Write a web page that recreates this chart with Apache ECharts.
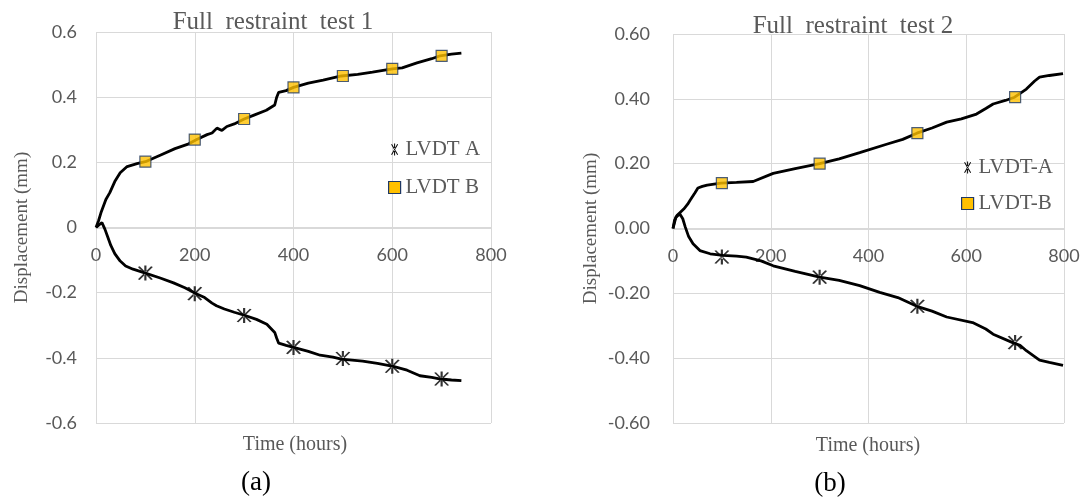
<!DOCTYPE html>
<html>
<head>
<meta charset="utf-8">
<script src="https://cdn.jsdelivr.net/npm/echarts@6/dist/echarts.min.js"></script>
<style>
  html, body { margin: 0; padding: 0; background: #fff; }
  #main { width: 1086px; height: 500px; }
</style>
</head>
<body>
<div id="main"></div>
<script>
// test 1 (a) - measured curves
var hoursB1 = [0, 5, 10, 20, 28, 38, 49, 63, 83, 100, 130, 160, 185, 204, 225, 235, 245, 255, 265, 280, 300, 320, 345, 362, 366, 370, 385, 400, 430, 460, 497, 530, 560, 600, 620, 650, 680, 697, 720, 740];
var dispB1 = [0, 0.02, 0.045, 0.086, 0.107, 0.141, 0.168, 0.187, 0.196, 0.202, 0.222, 0.242, 0.255, 0.27, 0.285, 0.29, 0.305, 0.298, 0.31, 0.318, 0.333, 0.345, 0.36, 0.376, 0.4, 0.415, 0.42, 0.43, 0.443, 0.452, 0.465, 0.47, 0.477, 0.487, 0.49, 0.505, 0.518, 0.527, 0.532, 0.535];
var hoursA1 = [0, 6, 12, 18, 24, 30, 38, 49, 60, 75, 100, 130, 157, 180, 203, 220, 235, 244, 260, 280, 302, 325, 346, 362, 366, 370, 385, 400, 430, 454, 480, 497, 540, 570, 602, 630, 656, 680, 698, 720, 740];
var dispA1 = [0, 0.008, 0.015, -0.005, -0.03, -0.055, -0.08, -0.103, -0.118, -0.128, -0.14, -0.155, -0.17, -0.185, -0.203, -0.215, -0.232, -0.24, -0.25, -0.26, -0.27, -0.282, -0.297, -0.322, -0.34, -0.355, -0.362, -0.368, -0.38, -0.392, -0.398, -0.404, -0.41, -0.417, -0.426, -0.438, -0.455, -0.46, -0.465, -0.468, -0.47];
var markHours1 = [100, 200, 300, 400, 500, 600, 700];
var markB1 = [0.202, 0.27, 0.333, 0.43, 0.465, 0.487, 0.527];
var markA1 = [-0.14, -0.203, -0.27, -0.368, -0.402, -0.426, -0.465];

// test 2 (b)
var hoursB2 = [0, 3, 8, 15, 22, 30, 35, 45, 51, 60, 70, 98, 130, 164, 205, 250, 300, 340, 382, 437, 470, 499, 530, 560, 590, 621, 640, 655, 680, 699, 723, 740, 750, 770, 798];
var dispB2 = [0, 0.025, 0.04, 0.05, 0.06, 0.075, 0.087, 0.11, 0.125, 0.13, 0.134, 0.14, 0.142, 0.145, 0.17, 0.185, 0.2, 0.215, 0.234, 0.26, 0.275, 0.294, 0.31, 0.328, 0.338, 0.353, 0.37, 0.384, 0.395, 0.405, 0.43, 0.455, 0.467, 0.472, 0.478];
var hoursA2 = [0, 6, 14, 20, 25, 32, 41, 55, 76, 102, 130, 150, 180, 205, 250, 300, 340, 382, 423, 460, 499, 530, 560, 613, 640, 655, 695, 710, 723, 740, 750, 770, 798];
var dispA2 = [0, 0.035, 0.045, 0.03, 0.005, -0.025, -0.047, -0.068, -0.078, -0.083, -0.085, -0.088, -0.1, -0.115, -0.132, -0.15, -0.16, -0.176, -0.197, -0.213, -0.24, -0.255, -0.273, -0.29, -0.31, -0.326, -0.352, -0.36, -0.377, -0.395, -0.406, -0.413, -0.422];
var markHours2 = [100, 300, 500, 700];
var markB2 = [0.14, 0.2, 0.294, 0.405];
var markA2 = [-0.088, -0.15, -0.24, -0.352];

var xTicks = [0, 800, 200];   // min, max, step
var yTicks = [-0.6, 0.6, 0.2];

function zip(xs, ys) {
  return xs.map(function (x, i) { return [x, ys[i]]; });
}

// 6 armed star, filled thin bars
var starPath = 'path://M-0.5,-6L0.5,-6L0.5,6L-0.5,6Z' +
  'M2.63,5.43L3.47,4.93L-2.63,-5.43L-3.47,-4.93Z' +
  'M3.47,-4.93L2.63,-5.43L-3.47,4.93L-2.63,5.43Z';

var grey = '#595959';
var gridGrey = '#d9d9d9';
var serif = '"Liberation Serif", "Times New Roman", serif';
var sans = 'Lato, "Noto Sans", sans-serif';

var squareStyle = { color: '#FFC000', borderColor: '#1F3864', borderWidth: 1.2 };
var starStyle = { color: '#000' };

// x axis sits on y = 0, half way up the plot
function xAxisFor(idx, lift) {
  return {
    gridIndex: idx, type: 'value',
    min: xTicks[0], max: xTicks[1], interval: xTicks[2],
    offset: -lift,
    axisLine: { onZero: false, lineStyle: { color: gridGrey } },
    axisTick: { show: false },
    axisLabel: { color: grey, fontFamily: sans, fontSize: 18, margin: 18 },
    splitLine: { lineStyle: { color: gridGrey } }
  };
}

function yAxisFor(idx, digits, gap, margin) {
  return {
    gridIndex: idx, type: 'value',
    min: yTicks[0], max: yTicks[1], interval: yTicks[2],
    name: 'Displacement (mm)', nameLocation: 'middle', nameGap: gap,
    nameTextStyle: { color: grey, fontFamily: serif, fontSize: 19 },
    axisLine: { show: false, onZero: false },
    axisTick: { show: false },
    axisLabel: {
      color: grey, fontFamily: sans, fontSize: 18, margin: margin,
      formatter: function (v) {
        var r = Math.round(v * 100) / 100;
        return digits ? r.toFixed(digits) : String(r);
      }
    },
    splitLine: { lineStyle: { color: gridGrey } }
  };
}

function lineSeries(name, idx, xs, ys) {
  return {
    name: name, type: 'line', xAxisIndex: idx, yAxisIndex: idx,
    data: zip(xs, ys), showSymbol: false, symbol: 'none',
    lineStyle: { color: '#000', width: 2.8 }, itemStyle: { color: '#000' },
    z: 2, silent: true
  };
}

function markSeries(name, idx, xs, ys, square) {
  return {
    name: name, type: 'scatter', xAxisIndex: idx, yAxisIndex: idx,
    data: zip(xs, ys),
    symbol: square ? 'rect' : starPath,
    symbolSize: square ? 11 : 15,
    itemStyle: square ? squareStyle : starStyle,
    z: 3
  };
}

var chart = echarts.init(document.getElementById('main'));

var option = {
  backgroundColor: '#fff',
  animation: false,
  grid: [
    { left: 96, top: 32, width: 395, height: 391 },
    { left: 673, top: 34, width: 391, height: 389 }
  ],
  xAxis: [xAxisFor(0, 195), xAxisFor(1, 194)],
  yAxis: [yAxisFor(0, 0, 64, 19), yAxisFor(1, 2, 72, 23)],
  legend: [
    {
      orient: 'vertical', left: 383, top: 134, itemGap: 17,
      itemWidth: 12, itemHeight: 12,
      textStyle: { color: grey, fontFamily: serif, fontSize: 21 },
      data: [
        { name: 'LVDT A', icon: starPath, itemStyle: starStyle },
        { name: 'LVDT B', icon: 'rect', itemStyle: squareStyle }
      ]
    },
    {
      orient: 'vertical', left: 956, top: 152, itemGap: 15,
      itemWidth: 12, itemHeight: 12,
      textStyle: { color: grey, fontFamily: serif, fontSize: 21 },
      data: [
        { name: 'LVDT-A', icon: starPath, itemStyle: starStyle },
        { name: 'LVDT-B', icon: 'rect', itemStyle: squareStyle }
      ]
    }
  ],
  series: [
    lineSeries('LVDT A', 0, hoursA1, dispA1),
    lineSeries('LVDT B', 0, hoursB1, dispB1),
    markSeries('LVDT A', 0, markHours1, markA1, false),
    markSeries('LVDT B', 0, markHours1, markB1, true),
    lineSeries('LVDT-A', 1, hoursA2, dispA2),
    lineSeries('LVDT-B', 1, hoursB2, dispB2),
    markSeries('LVDT-A', 1, markHours2, markA2, false),
    markSeries('LVDT-B', 1, markHours2, markB2, true)
  ],
  graphic: [
    { type: 'text', x: 273, y: 22, style: { text: 'Full  restraint  test 1', align: 'center', verticalAlign: 'middle', font: '25px ' + serif, fill: grey } },
    { type: 'text', x: 853, y: 26, style: { text: 'Full  restraint  test 2', align: 'center', verticalAlign: 'middle', font: '25px ' + serif, fill: grey } },
    { type: 'text', x: 295, y: 445, style: { text: 'Time (hours)', align: 'center', verticalAlign: 'middle', font: '20px ' + serif, fill: grey } },
    { type: 'text', x: 868, y: 446, style: { text: 'Time (hours)', align: 'center', verticalAlign: 'middle', font: '20px ' + serif, fill: grey } },
    { type: 'text', x: 256, y: 483, style: { text: '(a)', align: 'center', verticalAlign: 'middle', font: '27px ' + serif, fill: '#000' } },
    { type: 'text', x: 830, y: 484, style: { text: '(b)', align: 'center', verticalAlign: 'middle', font: '27px ' + serif, fill: '#000' } }
  ]
};

chart.setOption(option);
</script>
</body>
</html>
